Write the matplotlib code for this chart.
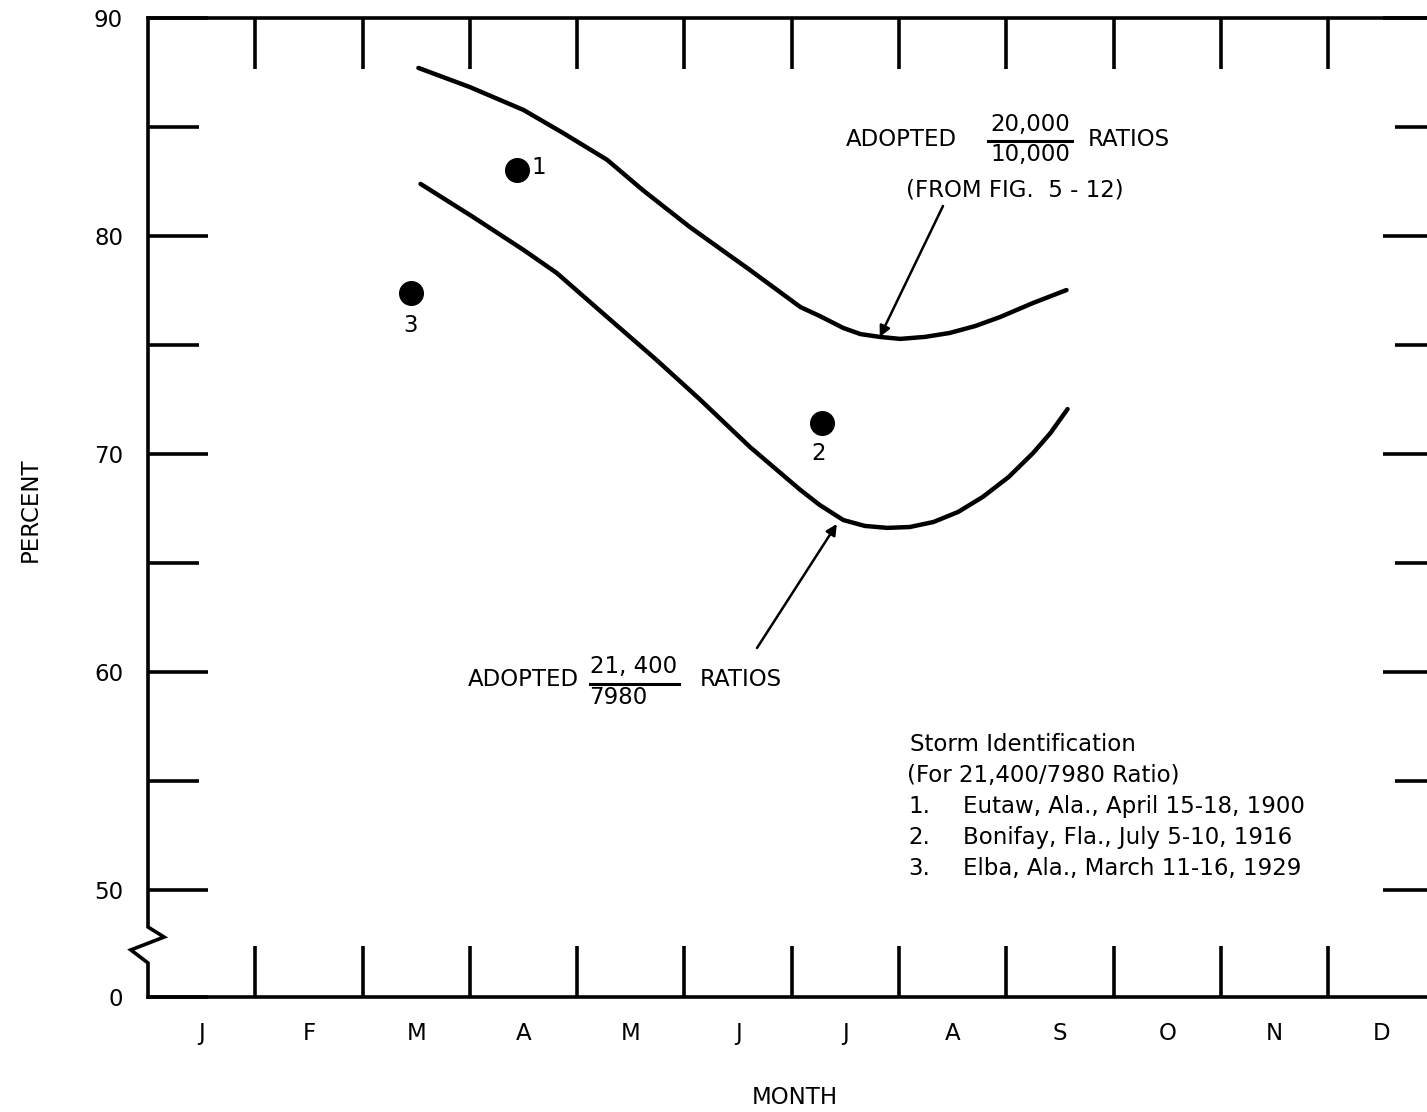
import matplotlib.pyplot as plt
import numpy as np

plt.rcParams['font.family'] = ['DejaVu Sans']
plt.rcParams['font.size'] = 16.5

W, H = 1427, 1112

months = ['J', 'F', 'M', 'A', 'M', 'J', 'J', 'A', 'S', 'O', 'N', 'D']

# adopted 20,000/10,000 ratios (x = months from Jan 1, y = percent)
upper_x = [2.52, 3.00, 3.50, 3.87, 4.28, 4.61, 5.05, 5.61, 6.08, 6.26,
           6.48, 6.64, 6.82, 7.01, 7.24, 7.47, 7.71, 7.94, 8.25, 8.56]
upper_y = [87.71, 86.83, 85.78, 84.72, 83.49, 82.11, 80.41, 78.44, 76.74,
           76.33, 75.78, 75.50, 75.37, 75.28, 75.37, 75.55, 75.87, 76.28,
           76.93, 77.52]

# adopted 21,400/7980 ratios
lower_x = [2.54, 3.03, 3.50, 3.81, 4.28, 4.74, 5.14, 5.61, 6.08, 6.26,
           6.48, 6.68, 6.89, 7.10, 7.32, 7.55, 7.78, 8.02, 8.25, 8.41, 8.57]
lower_y = [82.39, 80.87, 79.36, 78.30, 76.28, 74.31, 72.52, 70.32, 68.35,
           67.66, 66.97, 66.70, 66.61, 66.65, 66.88, 67.34, 68.03, 68.94,
           70.05, 70.96, 72.06]

# storms
storm_x = [3.44, 6.28, 2.45]
storm_y = [83.03, 71.42, 77.39]
storm_ids = ['1', '2', '3']
storm_notes = ['Eutaw, Ala., April 15-18, 1900',
               'Bonifay, Fla., July 5-10, 1916',
               'Elba, Ala., March 11-16, 1929']

y_major = [50, 60, 70, 80, 90]
y_minor = [55, 65, 75, 85]
y_zero = 45.09   # broken axis: 0 sits here

LW = 2.6


def fx(x):
    return x / W


def fy(y):
    return 1 - y / H


fig = plt.figure(figsize=(W / 100, H / 100), dpi=100)
ax = fig.add_axes([fx(148), fy(997), (W - 148) / W, (997 - 18) / H])
ax.set_xlim(0, (W - 148) / 107.3)
ax.set_ylim(y_zero, 90)

for s in ['left', 'right']:
    ax.spines[s].set_visible(False)
for s in ['top', 'bottom']:
    ax.spines[s].set_linewidth(LW)

# month boundaries as ticks, labels at month centres
ax.set_xticks(np.arange(1, 12))
ax.set_xticks(np.arange(12) + 0.5, minor=True)
ax.set_xticklabels([])
ax.set_xticklabels(months, minor=True)
ax.tick_params(axis='x', which='major', direction='in', length=37, width=LW,
               top=True, bottom=True)
ax.tick_params(axis='x', which='minor', length=0, pad=18, labelsize=16.5)

ax.set_yticks([y_zero] + y_major)
ax.set_yticklabels(['0'] + [str(v) for v in y_major])
ax.set_yticks(y_minor, minor=True)
ax.tick_params(axis='y', which='major', direction='in', length=43, width=LW,
               pad=18, labelsize=16.5)
ax.tick_params(axis='y', which='minor', direction='in', length=37, width=LW)

# right-hand ticks (shorter)
ax2 = ax.twinx()
ax2.set_ylim(ax.get_ylim())
for s in ax2.spines.values():
    s.set_visible(False)
ax2.set_yticks(y_major)
ax2.set_yticks(y_minor, minor=True)
ax2.tick_params(axis='y', which='major', direction='in', length=32, width=LW,
                labelright=False)
ax2.tick_params(axis='y', which='minor', direction='in', length=23, width=LW)

# left axis line with break symbol
brk_x = [0, 0, 0.15, -0.16, 0, 0]
brk_y = [90, 48.3, 47.84, 47.25, 46.65, y_zero]
ax.plot(brk_x, brk_y, color='black', lw=LW, clip_on=False,
        solid_joinstyle='miter')

ax.plot(upper_x, upper_y, color='black', lw=3.2, solid_capstyle='round',
        solid_joinstyle='round')
ax.plot(lower_x, lower_y, color='black', lw=3.2, solid_capstyle='round',
        solid_joinstyle='round')
ax.plot(storm_x, storm_y, 'o', color='black', ms=17)

offsets = [(22, 2), (-3, -30), (0, -33)]
for i in range(3):
    ax.annotate(storm_ids[i], (storm_x[i], storm_y[i]), xytext=offsets[i],
                textcoords='offset pixels', ha='center', va='center')

# upper label
fig.text(fx(846), fy(140), 'ADOPTED', ha='left', va='center')
fig.text(fx(1030), fy(124), '20,000', ha='center', va='center')
fig.text(fx(1030), fy(154), '10,000', ha='center', va='center')
fig.add_artist(plt.Line2D([fx(988), fx(1072)], [fy(141), fy(141)],
                          color='black', lw=2.2))
fig.text(fx(1088), fy(140), 'RATIOS', ha='left', va='center')
fig.text(fx(1015), fy(190), '(FROM FIG.  5 - 12)', ha='center', va='center')
ax.annotate('', xy=(upper_x[12], upper_y[12]), xytext=(943, H - 206),
            textcoords='figure pixels',
            arrowprops=dict(arrowstyle='-|>', color='black', lw=1.8,
                            mutation_scale=16, shrinkA=0, shrinkB=0))

# lower label
fig.text(fx(468), fy(679), 'ADOPTED', ha='left', va='center')
fig.text(fx(634), fy(666), '21, 400', ha='center', va='center')
fig.text(fx(618), fy(697), '7980', ha='center', va='center')
fig.add_artist(plt.Line2D([fx(590), fx(679)], [fy(684), fy(684)],
                          color='black', lw=2.2))
fig.text(fx(700), fy(679), 'RATIOS', ha='left', va='center')
ax.annotate('', xy=(6.42, 66.79), xytext=(757, H - 648),
            textcoords='figure pixels',
            arrowprops=dict(arrowstyle='-|>', color='black', lw=1.8,
                            mutation_scale=16, shrinkA=0, shrinkB=0))

# storm identification (baseline aligned)
fig.text(fx(910), fy(751), 'Storm Identification', ha='left', va='baseline')
fig.text(fx(907), fy(782), '(For 21,400/7980 Ratio)', ha='left',
         va='baseline')
for i in range(3):
    yy = 813 + 31 * i
    fig.text(fx(908), fy(yy), storm_ids[i] + '.', ha='left', va='baseline')
    fig.text(fx(963), fy(yy), storm_notes[i], ha='left', va='baseline')

fig.text(fx(30), fy(510), 'PERCENT', rotation=90, ha='center', va='center')
fig.text(fx(795), fy(1098), 'MONTH', ha='center', va='center')

fig.savefig('out.png', dpi=100)
